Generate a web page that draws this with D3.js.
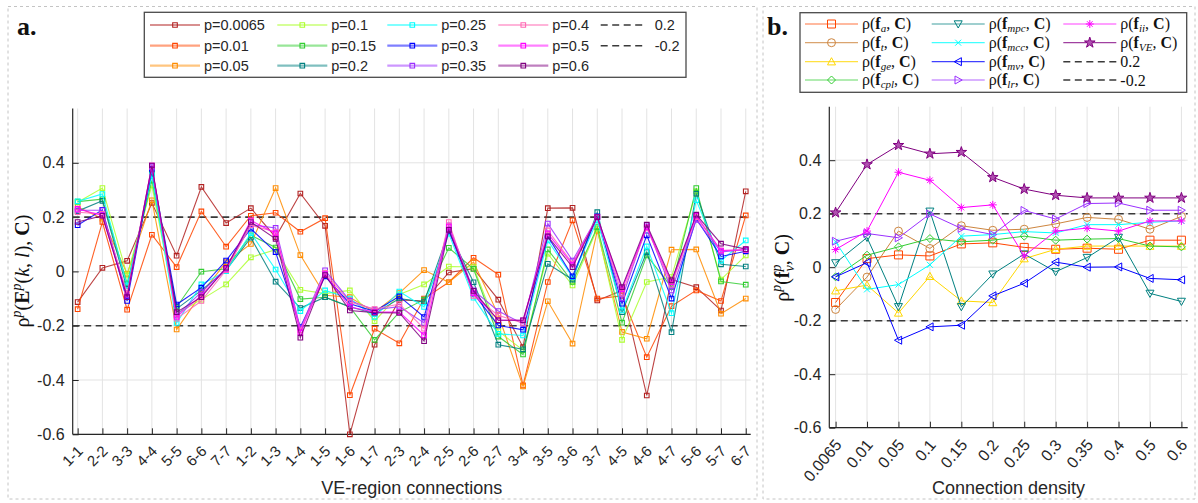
<!DOCTYPE html>
<html>
<head>
<meta charset="utf-8">
<script src="https://cdn.jsdelivr.net/npm/d3@7"></script>
<style>
  body { margin: 0; background: #fff; }
  svg { display: block; }
  text { font-family: "Liberation Sans", Arial, sans-serif; fill: #262626; }
  .tex, .tex tspan { font-family: "Liberation Serif", "Times New Roman", serif; fill: #111; }
</style>
</head>
<body>
<svg id="fig" width="1198" height="503"></svg>
<script>
// ---- data ----
var connections = ["1-1","2-2","3-3","4-4","5-5","6-6","7-7","1-2","1-3","1-4","1-5","1-6","1-7","2-3",
  "2-4","2-5","2-6","2-7","3-4","3-5","3-6","3-7","4-5","4-6","4-7","5-6","5-7","6-7"];
var yTicks = [-0.6, -0.4, -0.2, 0, 0.2, 0.4];
var refLevels = [0.2, -0.2];

var pNames = ["p=0.0065","p=0.01","p=0.05","p=0.1","p=0.15","p=0.2","p=0.25","p=0.3","p=0.35","p=0.4","p=0.5","p=0.6"];
var pColors = ["#b22222","#ff4500","#ff8c00","#adff2f","#32cd32","#008080","#00ffff","#0000ff","#9b30ff","#ff69b4","#ff00ff","#800080"];

var p0065 = [-0.113,0.013,0.039,0.252,0.058,0.311,0.178,0.233,0.126,0.287,0.168,-0.6,-0.27,-0.105,-0.109,-0.004,0.01,-0.104,-0.279,0.233,0.234,-0.107,-0.07,-0.457,-0.03,-0.058,-0.144,0.295];
var p001  = [-0.139,0.182,-0.141,0.135,0.016,0.221,0.091,0.205,0.216,0.146,0.196,-0.456,-0.211,-0.265,-0.1,-0.04,0.05,-0.012,-0.42,-0.039,0.188,-0.1,-0.09,-0.316,-0.128,-0.07,-0.109,0.206];
var p005  = [0.237,0.194,-0.009,0.262,-0.214,-0.082,0.034,0.101,0.307,0.06,-0.088,-0.095,-0.15,-0.08,0.005,-0.04,0.034,-0.16,-0.424,-0.11,-0.266,0.15,-0.223,-0.248,0.08,0.081,-0.156,-0.1];
var p01   = [0.255,0.307,-0.015,0.317,-0.156,-0.104,-0.048,0.052,0.08,-0.068,-0.082,-0.07,-0.183,-0.085,-0.048,0.018,0.016,-0.22,-0.29,0.065,-0.052,0.157,-0.252,-0.039,-0.021,0.295,-0.03,0.059];
var p015  = [0.257,0.266,-0.045,0.335,-0.131,-0.001,0.01,0.133,0.088,-0.102,-0.095,-0.131,-0.252,-0.15,-0.104,0.087,0.009,-0.24,-0.306,0.081,-0.039,0.163,-0.189,0.059,-0.058,0.307,-0.037,-0.049];
var p02   = [0.222,0.26,-0.064,0.36,-0.138,-0.07,0.005,0.124,-0.038,-0.135,-0.095,-0.13,-0.156,-0.1,-0.113,0.147,-0.04,-0.27,-0.287,0.028,-0.03,0.218,-0.15,0.071,-0.224,0.286,0.026,0.018];
var p025  = [0.258,0.285,-0.052,0.354,-0.19,-0.048,0.001,0.141,0.007,-0.146,-0.07,-0.1,-0.168,-0.074,-0.131,0.139,-0.097,-0.23,-0.236,0.114,-0.021,0.188,-0.144,0.092,-0.154,0.262,0.04,0.114];
var p03   = [0.17,0.227,-0.109,0.378,-0.122,-0.06,0.04,0.157,0.071,-0.205,-0.018,-0.119,-0.147,-0.092,-0.168,0.151,-0.082,-0.199,-0.215,0.129,-0.018,0.203,-0.119,0.133,-0.1,0.194,0.055,0.074];
var p035  = [0.225,0.225,-0.088,0.384,-0.162,-0.076,0.01,0.172,0.16,-0.21,0.004,-0.108,-0.141,-0.13,-0.19,0.17,-0.07,-0.146,-0.193,0.176,0.04,0.2,-0.1,0.17,-0.07,0.19,0.072,0.08];
var p04   = [0.218,0.212,-0.082,0.39,-0.174,-0.109,0.005,0.17,0.145,-0.217,-0.005,-0.113,-0.139,-0.12,-0.211,0.182,-0.09,-0.162,-0.19,0.151,0.03,0.2,-0.082,0.16,-0.05,0.2,0.077,0.08];
var p05   = [0.23,0.206,-0.095,0.39,-0.168,-0.088,0.01,0.188,0.14,-0.225,-0.01,-0.131,-0.15,-0.15,-0.235,0.165,-0.08,-0.18,-0.18,0.14,0.025,0.2,-0.065,0.163,-0.04,0.205,0.077,0.08];
var p06   = [0.182,0.205,-0.095,0.39,-0.15,-0.095,0.0135,0.182,0.12,-0.244,-0.0135,-0.144,-0.152,-0.153,-0.257,0.153,-0.072,-0.18,-0.18,0.129,0.016,0.2,-0.058,0.172,-0.033,0.209,0.102,0.082];

var densityLabels = ["0.0065","0.01","0.05","0.1","0.15","0.2","0.25","0.3","0.35","0.4","0.5","0.6"];
var featSubs   = ["a","t","ge","cpl","mpc","mcc","mv","lr","ii","VE"];
var featColors = ["#ff4500","#cd853f","#ffd700","#32cd32","#008080","#00ffff","#0000ff","#9b30ff","#ff00ff","#800080"];
var featMarkers = ["square","circle","up","diamond","down","x","left","right","asterisk","star"];

var fA   = [-0.132,0.032,0.046,0.042,0.087,0.091,0.074,0.067,0.071,0.067,0.101,0.101];
var fT   = [-0.158,-0.037,0.135,0.07,0.155,0.138,0.142,0.162,0.186,0.179,0.142,0.19];
var fGe  = [-0.088,-0.067,-0.171,-0.034,-0.126,-0.132,0.032,0.067,0.079,0.079,0.079,0.079];
var fCpl = [-0.036,0.045,0.076,0.107,0.095,0.101,0.116,0.101,0.105,0.107,0.079,0.076];
var fMpc = [0.016,0.111,-0.148,0.209,-0.148,-0.026,0.049,-0.017,0.036,0.111,-0.098,-0.128];
var fMcc = [0.095,-0.083,-0.065,0.009,0.116,0.122,0.133,0.128,0.159,0.159,0.168,0.173];
var fMv  = [-0.036,0.017,-0.273,-0.223,-0.217,-0.107,-0.06,0.019,0,0.001,-0.042,-0.047];
var fLr  = [0.097,0.126,0.11,0.199,0.145,0.122,0.212,0.18,0.238,0.24,0.213,0.213];
var fIi  = [0.066,0.135,0.355,0.325,0.223,0.233,0.042,0.135,0.146,0.135,0.173,0.173];
var fVE  = [0.204,0.384,0.456,0.424,0.43,0.336,0.292,0.269,0.259,0.259,0.259,0.259];

var pSeries = [p0065,p001,p005,p01,p015,p02,p025,p03,p035,p04,p05,p06];
var featSeries = [fA,fT,fGe,fCpl,fMpc,fMcc,fMv,fLr,fIi,fVE];

var svg = d3.select("#fig");
var gridColor = "#e3e3e3", axisColor = "#262626", refColor = "#3a3a3a";

// marker shapes, s = half size
function markerPath(type, s) {
  switch (type) {
    case "square": return "M" + (-s) + "," + (-s) + "h" + 2*s + "v" + 2*s + "h" + (-2*s) + "Z";
    case "circle": return "M" + s + ",0A" + s + "," + s + " 0 1,1 " + (-s) + ",0A" + s + "," + s + " 0 1,1 " + s + ",0Z";
    case "up": return "M0," + (-s) + "L" + s + "," + (s*0.8) + "L" + (-s) + "," + (s*0.8) + "Z";
    case "down": return "M0," + s + "L" + s + "," + (-s*0.8) + "L" + (-s) + "," + (-s*0.8) + "Z";
    case "left": return "M" + (-s) + ",0L" + (s*0.8) + "," + (-s) + "L" + (s*0.8) + "," + s + "Z";
    case "right": return "M" + s + ",0L" + (-s*0.8) + "," + (-s) + "L" + (-s*0.8) + "," + s + "Z";
    case "diamond": return "M0," + (-s) + "L" + s + ",0L0," + s + "L" + (-s) + ",0Z";
    case "x": var a = s*0.75; return "M" + (-a) + "," + (-a) + "L" + a + "," + a + "M" + (-a) + "," + a + "L" + a + "," + (-a);
    case "asterisk": var b = s*0.7;
      return "M0," + (-s) + "V" + s + "M" + (-s) + ",0H" + s + "M" + (-b) + "," + (-b) + "L" + b + "," + b + "M" + (-b) + "," + b + "L" + b + "," + (-b);
    case "star": return d3.symbol(d3.symbolStar, s*s*1.4)();
  }
}

function drawFrame(x0, x1) {
  svg.append("rect").attr("x", x0).attr("y", 6.5).attr("width", x1 - x0).attr("height", 492.5)
    .attr("fill", "none").attr("stroke", "#c4c4c4").attr("stroke-dasharray", "3,3");
}

// plain hyphen for negatives, like the original figure
function tickFmt(d) { return d === 0 ? "0" : d3.format(".1f")(d).replace("\u2212", "-"); }

// common axes/grid/reference lines for one panel
function drawAxes(g, x, y, n, labels, rot, fs) {
  var x0 = x.range()[0], x1 = x.range()[1], y0 = y.range()[0], y1 = y.range()[1];
  g.append("g").selectAll("line.vg").data(d3.range(n)).join("line")
    .attr("x1", function(d) { return x(d); }).attr("x2", function(d) { return x(d); })
    .attr("y1", y0).attr("y2", y1).attr("stroke", gridColor);
  g.append("g").selectAll("line.hg").data(yTicks).join("line")
    .attr("x1", x0).attr("x2", x1).attr("y1", function(d) { return y(d); }).attr("y2", function(d) { return y(d); })
    .attr("stroke", gridColor);

  var xa = g.append("g").attr("transform", "translate(0," + y0 + ")")
    .call(d3.axisBottom(x).tickValues(d3.range(n)).tickFormat(function(i) { return labels[i]; }).tickSize(-6).tickSizeOuter(0));
  xa.select(".domain").attr("stroke", axisColor).attr("stroke-width", 1.2).attr("d", "M" + x0 + ",0H" + x1);
  xa.selectAll(".tick line").attr("stroke", axisColor);
  xa.selectAll(".tick text").attr("y", 0).attr("dy", "0.35em").attr("text-anchor", "end")
    .attr("transform", "translate(2,14) rotate(" + rot + ")").style("font-size", fs + "px").attr("fill", axisColor);

  var ya = g.append("g").attr("transform", "translate(" + x0 + ",0)")
    .call(d3.axisLeft(y).tickValues(yTicks).tickFormat(tickFmt).tickSize(-6).tickPadding(8).tickSizeOuter(0));
  ya.select(".domain").attr("stroke", axisColor).attr("stroke-width", 1.2).attr("d", "M0," + y0 + "V" + y1);
  ya.selectAll(".tick line").attr("stroke", axisColor);
  ya.selectAll(".tick text").style("font-size", "16px").attr("fill", axisColor);

  g.append("g").selectAll("line").data(refLevels).join("line")
    .attr("x1", x0).attr("x2", x1).attr("y1", function(d) { return y(d); }).attr("y2", function(d) { return y(d); })
    .attr("stroke", refColor).attr("stroke-width", 1.6).attr("stroke-dasharray", "7,4.5");
}

// ================= panel a =================
drawFrame(8, 757);
var xA = d3.scaleLinear().domain([-0.2, connections.length - 0.8]).range([72.7, 750.7]);
var yA = d3.scaleLinear().domain([-0.6, 0.6]).range([434.3, 108.5]);
var gA = svg.append("g");
drawAxes(gA, xA, yA, connections.length, connections, -45, 15);

var lineA = d3.line().x(function(d, i) { return xA(i); }).y(function(d) { return yA(d); });
pSeries.forEach(function(vals, k) {
  var s = gA.append("g");
  s.append("path").attr("d", lineA(vals)).attr("fill", "none").attr("stroke", pColors[k])
    .attr("stroke-width", 1.1).attr("stroke-opacity", 0.85);
  s.selectAll("path.m").data(vals).join("path").attr("class", "m")
    .attr("transform", function(d, i) { return "translate(" + xA(i) + "," + yA(d) + ")"; })
    .attr("d", markerPath("square", 2.3)).attr("fill", "none").attr("stroke", pColors[k]).attr("stroke-width", 1.1);
});

svg.append("text").attr("x", 411.7).attr("y", 494).attr("text-anchor", "middle")
  .style("font-size", "18px").text("VE-region connections");

var ylA = svg.append("text").attr("class", "tex").attr("transform", "translate(29,271) rotate(-90)")
  .attr("text-anchor", "middle").style("font-size", "20px");
ylA.append("tspan").text("ρ");
ylA.append("tspan").attr("dy", -8).style("font-size", "14px").style("font-style", "italic").text("p");
ylA.append("tspan").attr("dy", 8).text("(");
ylA.append("tspan").style("font-weight", "bold").text("E");
ylA.append("tspan").attr("dy", -8).style("font-size", "14px").style("font-style", "italic").text("p");
ylA.append("tspan").attr("dy", 8).text("(");
ylA.append("tspan").style("font-style", "italic").text("k");
ylA.append("tspan").text(", ");
ylA.append("tspan").style("font-style", "italic").text("l");
ylA.append("tspan").text("), ");
ylA.append("tspan").style("font-weight", "bold").text("C");
ylA.append("tspan").text(")");

svg.append("text").attr("class", "tex").attr("x", 17).attr("y", 35)
  .style("font-size", "26px").style("font-weight", "bold").text("a.");

// legend a
var legA = svg.append("g");
legA.append("rect").attr("x", 144.3).attr("y", 12.3).attr("width", 541.7).attr("height", 65)
  .attr("fill", "#fff").attr("stroke", "#4a4a4a").attr("stroke-width", 1.3);
var legColsA = [150, 277.3, 387.3, 498.3, 600.7];
var legRowsA = [25, 45.7, 65.7];
var legItemsA = pNames.map(function(nm, k) { return { name: nm, color: pColors[k], dash: false }; })
  .concat(refLevels.map(function(v) { return { name: String(v), color: refColor, dash: true }; }));
legItemsA.forEach(function(it, k) {
  var lx = legColsA[Math.floor(k / 3)], ly = legRowsA[k % 3];
  var len = it.dash ? 46 : 50;
  legA.append("line").attr("x1", lx).attr("x2", lx + len).attr("y1", ly).attr("y2", ly)
    .attr("stroke", it.color).attr("stroke-width", it.dash ? 1.6 : 2.2)
    .attr("stroke-opacity", it.dash ? 1 : 0.5).attr("stroke-dasharray", it.dash ? "7,4.5" : null);
  if (!it.dash) {
    legA.append("path").attr("transform", "translate(" + (lx + len / 2) + "," + ly + ")")
      .attr("d", markerPath("square", 2.3)).attr("fill", "none").attr("stroke", it.color).attr("stroke-width", 1.1);
  }
  legA.append("text").attr("x", lx + (it.dash ? 54 : len + 4)).attr("y", ly).attr("dy", "0.35em")
    .style("font-size", "14.5px").attr("fill", "#111").text(it.name);
});

// ================= panel b =================
drawFrame(763, 1195);
var xB = d3.scaleLinear().domain([-0.2, densityLabels.length - 0.8]).range([829.3, 1187.7]);
var yB = d3.scaleLinear().domain([-0.6, 0.6]).range([427.7, 106.7]);
var gB = svg.append("g");
drawAxes(gB, xB, yB, densityLabels.length, densityLabels, -50, 16);

var lineB = d3.line().x(function(d, i) { return xB(i); }).y(function(d) { return yB(d); });
featSeries.forEach(function(vals, k) {
  var s = gB.append("g");
  s.append("path").attr("d", lineB(vals)).attr("fill", "none").attr("stroke", featColors[k]).attr("stroke-width", 1);
  s.selectAll("path.m").data(vals).join("path").attr("class", "m")
    .attr("transform", function(d, i) { return "translate(" + xB(i) + "," + yB(d) + ")"; })
    .attr("d", markerPath(featMarkers[k], featMarkers[k] === "star" ? 5 : 4))
    .attr("fill", featMarkers[k] === "star" ? "#b050b0" : "none")
    .attr("stroke", featColors[k]).attr("stroke-width", 1);
});

svg.append("text").attr("x", 1008.5).attr("y", 494).attr("text-anchor", "middle")
  .style("font-size", "18px").text("Connection density");

var ylB = svg.append("text").attr("class", "tex").attr("transform", "translate(789,268) rotate(-90)")
  .attr("text-anchor", "middle").style("font-size", "20px");
ylB.append("tspan").text("ρ");
ylB.append("tspan").attr("dy", -8).style("font-size", "14px").style("font-style", "italic").text("p");
ylB.append("tspan").attr("dy", 8).text("(");
ylB.append("tspan").style("font-weight", "bold").text("f");
ylB.append("tspan").attr("dy", -8).style("font-size", "14px").style("font-style", "italic").text("p");
ylB.append("tspan").attr("dx", -7).attr("dy", 13).style("font-size", "14px").style("font-style", "italic").text("v");
ylB.append("tspan").attr("dy", -5).text(", ");
ylB.append("tspan").style("font-weight", "bold").text("C");
ylB.append("tspan").text(")");

svg.append("text").attr("class", "tex").attr("x", 767).attr("y", 35)
  .style("font-size", "26px").style("font-weight", "bold").text("b.");

// legend b
var legB = svg.append("g");
legB.append("rect").attr("x", 800).attr("y", 12.7).attr("width", 386.7).attr("height", 79.6)
  .attr("fill", "#fff").attr("stroke", "#4a4a4a").attr("stroke-width", 1.3);
var legColsB = [805, 931.7, 1063.3];
var legRowsB = [24, 42.7, 61.7, 80];
var legItemsB = featSubs.map(function(sb, k) { return { sub: sb, color: featColors[k], marker: featMarkers[k] }; })
  .concat(refLevels.map(function(v) { return { name: String(v), color: refColor, dash: true }; }));
legItemsB.forEach(function(it, k) {
  var lx = legColsB[Math.floor(k / 4)], ly = legRowsB[k % 4];
  var len = 53;
  legB.append("line").attr("x1", lx).attr("x2", lx + len).attr("y1", ly).attr("y2", ly)
    .attr("stroke", it.color).attr("stroke-width", it.dash ? 1.6 : 1.2)
    .attr("stroke-opacity", it.dash ? 1 : 0.75).attr("stroke-dasharray", it.dash ? "7,4.5" : null);
  if (it.dash) {
    legB.append("text").attr("class", "tex").attr("x", lx + len + 4).attr("y", ly).attr("dy", "0.35em")
      .style("font-size", "16px").text(it.name);
    return;
  }
  legB.append("path").attr("transform", "translate(" + (lx + len / 2) + "," + ly + ")")
    .attr("d", markerPath(it.marker, it.marker === "star" ? 5 : 4))
    .attr("fill", it.marker === "star" ? "#b050b0" : "none").attr("stroke", it.color).attr("stroke-width", 1);
  var t = legB.append("text").attr("class", "tex").attr("x", lx + len + 4).attr("y", ly).attr("dy", "0.3em")
    .style("font-size", "16px");
  t.append("tspan").text("ρ(");
  t.append("tspan").style("font-weight", "bold").text("f");
  t.append("tspan").attr("dy", 3).style("font-size", "11px").style("font-style", "italic").text(it.sub);
  t.append("tspan").attr("dy", -3).text(", ");
  t.append("tspan").style("font-weight", "bold").text("C");
  t.append("tspan").text(")");
});
</script>
</body>
</html>
